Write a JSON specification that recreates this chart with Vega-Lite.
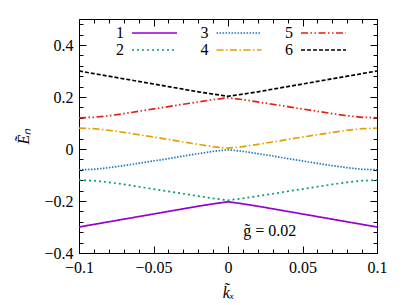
{
  "$schema": "https://vega.github.io/schema/vega-lite/v6.json",
  "autosize": {"type": "none"},
  "padding": {"left": 79, "top": 19, "right": 30, "bottom": 52},
  "width": 298,
  "height": 234,
  "datasets": {
    "bands": [
      {"b":"1","k":-0.1,"E":-0.300},{"b":"1","k":-0.09,"E":-0.290},{"b":"1","k":-0.08,"E":-0.280},{"b":"1","k":-0.07,"E":-0.270},{"b":"1","k":-0.06,"E":-0.260},{"b":"1","k":-0.05,"E":-0.250},{"b":"1","k":-0.04,"E":-0.240},{"b":"1","k":-0.03,"E":-0.230},{"b":"1","k":-0.02,"E":-0.220},{"b":"1","k":-0.01,"E":-0.211},{"b":"1","k":0,"E":-0.203},{"b":"1","k":0.01,"E":-0.211},{"b":"1","k":0.02,"E":-0.220},{"b":"1","k":0.03,"E":-0.230},{"b":"1","k":0.04,"E":-0.240},{"b":"1","k":0.05,"E":-0.250},{"b":"1","k":0.06,"E":-0.260},{"b":"1","k":0.07,"E":-0.270},{"b":"1","k":0.08,"E":-0.280},{"b":"1","k":0.09,"E":-0.290},{"b":"1","k":0.1,"E":-0.300},
      {"b":"2","k":-0.1,"E":-0.120},{"b":"2","k":-0.09,"E":-0.122},{"b":"2","k":-0.08,"E":-0.128},{"b":"2","k":-0.07,"E":-0.136},{"b":"2","k":-0.06,"E":-0.145},{"b":"2","k":-0.05,"E":-0.154},{"b":"2","k":-0.04,"E":-0.163},{"b":"2","k":-0.03,"E":-0.172},{"b":"2","k":-0.02,"E":-0.181},{"b":"2","k":-0.01,"E":-0.190},{"b":"2","k":0,"E":-0.197},{"b":"2","k":0.01,"E":-0.190},{"b":"2","k":0.02,"E":-0.181},{"b":"2","k":0.03,"E":-0.172},{"b":"2","k":0.04,"E":-0.163},{"b":"2","k":0.05,"E":-0.154},{"b":"2","k":0.06,"E":-0.145},{"b":"2","k":0.07,"E":-0.136},{"b":"2","k":0.08,"E":-0.128},{"b":"2","k":0.09,"E":-0.122},{"b":"2","k":0.1,"E":-0.120},
      {"b":"3","k":-0.1,"E":-0.080},{"b":"3","k":-0.09,"E":-0.078},{"b":"3","k":-0.08,"E":-0.072},{"b":"3","k":-0.07,"E":-0.064},{"b":"3","k":-0.06,"E":-0.055},{"b":"3","k":-0.05,"E":-0.046},{"b":"3","k":-0.04,"E":-0.037},{"b":"3","k":-0.03,"E":-0.027},{"b":"3","k":-0.02,"E":-0.018},{"b":"3","k":-0.01,"E":-0.009},{"b":"3","k":0,"E":-0.003},{"b":"3","k":0.01,"E":-0.009},{"b":"3","k":0.02,"E":-0.018},{"b":"3","k":0.03,"E":-0.027},{"b":"3","k":0.04,"E":-0.037},{"b":"3","k":0.05,"E":-0.046},{"b":"3","k":0.06,"E":-0.055},{"b":"3","k":0.07,"E":-0.064},{"b":"3","k":0.08,"E":-0.072},{"b":"3","k":0.09,"E":-0.078},{"b":"3","k":0.1,"E":-0.080},
      {"b":"4","k":-0.1,"E":0.080},{"b":"4","k":-0.09,"E":0.078},{"b":"4","k":-0.08,"E":0.072},{"b":"4","k":-0.07,"E":0.064},{"b":"4","k":-0.06,"E":0.055},{"b":"4","k":-0.05,"E":0.046},{"b":"4","k":-0.04,"E":0.037},{"b":"4","k":-0.03,"E":0.027},{"b":"4","k":-0.02,"E":0.018},{"b":"4","k":-0.01,"E":0.009},{"b":"4","k":0,"E":0.003},{"b":"4","k":0.01,"E":0.009},{"b":"4","k":0.02,"E":0.018},{"b":"4","k":0.03,"E":0.027},{"b":"4","k":0.04,"E":0.037},{"b":"4","k":0.05,"E":0.046},{"b":"4","k":0.06,"E":0.055},{"b":"4","k":0.07,"E":0.064},{"b":"4","k":0.08,"E":0.072},{"b":"4","k":0.09,"E":0.078},{"b":"4","k":0.1,"E":0.080},
      {"b":"5","k":-0.1,"E":0.120},{"b":"5","k":-0.09,"E":0.122},{"b":"5","k":-0.08,"E":0.128},{"b":"5","k":-0.07,"E":0.136},{"b":"5","k":-0.06,"E":0.145},{"b":"5","k":-0.05,"E":0.154},{"b":"5","k":-0.04,"E":0.163},{"b":"5","k":-0.03,"E":0.172},{"b":"5","k":-0.02,"E":0.181},{"b":"5","k":-0.01,"E":0.190},{"b":"5","k":0,"E":0.197},{"b":"5","k":0.01,"E":0.190},{"b":"5","k":0.02,"E":0.181},{"b":"5","k":0.03,"E":0.172},{"b":"5","k":0.04,"E":0.163},{"b":"5","k":0.05,"E":0.154},{"b":"5","k":0.06,"E":0.145},{"b":"5","k":0.07,"E":0.136},{"b":"5","k":0.08,"E":0.128},{"b":"5","k":0.09,"E":0.122},{"b":"5","k":0.1,"E":0.120},
      {"b":"6","k":-0.1,"E":0.300},{"b":"6","k":-0.09,"E":0.290},{"b":"6","k":-0.08,"E":0.280},{"b":"6","k":-0.07,"E":0.270},{"b":"6","k":-0.06,"E":0.260},{"b":"6","k":-0.05,"E":0.250},{"b":"6","k":-0.04,"E":0.240},{"b":"6","k":-0.03,"E":0.230},{"b":"6","k":-0.02,"E":0.220},{"b":"6","k":-0.01,"E":0.211},{"b":"6","k":0,"E":0.203},{"b":"6","k":0.01,"E":0.211},{"b":"6","k":0.02,"E":0.220},{"b":"6","k":0.03,"E":0.230},{"b":"6","k":0.04,"E":0.240},{"b":"6","k":0.05,"E":0.250},{"b":"6","k":0.06,"E":0.260},{"b":"6","k":0.07,"E":0.270},{"b":"6","k":0.08,"E":0.280},{"b":"6","k":0.09,"E":0.290},{"b":"6","k":0.1,"E":0.300}
    ],
    "note": [{"k": 0.028, "E": -0.315, "t": "g̃ = 0.02"}]
  },
  "data": {"name": "bands"},
  "resolve": {"axis": {"x": "independent", "y": "independent"}},
  "layer": [
    {
      "mark": {"type": "line", "strokeWidth": 1.7, "strokeCap": "butt"},
      "encoding": {
        "x": {"field": "k", "type": "quantitative", "title": "k̃ₓ",
          "scale": {"domain": [-0.1, 0.1], "nice": false, "zero": false},
          "axis": {"orient": "bottom", "values": [-0.1, -0.05, 0, 0.05, 0.1], "format": "~g", "tickSize": -7, "labelPadding": 13, "labelFlush": false, "domain": true, "titlePadding": 9}},
        "y": {"field": "E", "type": "quantitative", "title": "Ẽₙ",
          "scale": {"domain": [-0.4, 0.5], "nice": false, "zero": false},
          "axis": {"orient": "left", "values": [-0.4, -0.2, 0, 0.2, 0.4], "format": "~g", "tickSize": -7, "labelPadding": 13, "labelFlush": false, "domain": true, "titlePadding": 12}},
        "color": {"field": "b", "type": "nominal",
          "scale": {"domain": ["1", "3", "5", "2", "4", "6"], "range": ["#9400d3", "#1f78c1", "#e51e10", "#009e73", "#e69f00", "#000000"]},
          "legend": {"title": null, "orient": "none", "legendX": 50, "legendY": 6, "columns": 3, "direction": "horizontal"}},
        "strokeDash": {"field": "b", "type": "nominal",
          "scale": {"domain": ["1", "3", "5", "2", "4", "6"], "range": [[1, 0], [1.5, 1.5], [7, 2.5, 1.5, 2.5, 1.5, 2.5], [2, 3], [7, 2.5, 1.5, 2.5], [4, 2]]},
          "legend": {"title": null, "orient": "none", "legendX": 50, "legendY": 6, "columns": 3, "direction": "horizontal"}}
      }
    },
    {
      "mark": {"type": "point", "opacity": 0},
      "encoding": {
        "x": {"field": "k", "type": "quantitative", "scale": {"domain": [-0.1, 0.1], "nice": false, "zero": false},
          "axis": {"orient": "bottom", "title": null, "labels": false, "domain": false, "tickSize": -4, "values": [-0.1,-0.09,-0.08,-0.07,-0.06,-0.05,-0.04,-0.03,-0.02,-0.01,0,0.01,0.02,0.03,0.04,0.05,0.06,0.07,0.08,0.09,0.1]}},
        "y": {"field": "E", "type": "quantitative", "scale": {"domain": [-0.4, 0.5], "nice": false, "zero": false},
          "axis": {"orient": "left", "title": null, "labels": false, "domain": false, "tickSize": -4, "values": [-0.4,-0.36,-0.32,-0.28,-0.24,-0.2,-0.16,-0.12,-0.08,-0.04,0,0.04,0.08,0.12,0.16,0.2,0.24,0.28,0.32,0.36,0.4,0.44,0.48]}}
      }
    },
    {
      "mark": {"type": "point", "opacity": 0},
      "encoding": {
        "x": {"field": "k", "type": "quantitative", "scale": {"domain": [-0.1, 0.1], "nice": false, "zero": false},
          "axis": {"orient": "top", "title": null, "labels": false, "domain": true, "tickSize": -7, "values": [-0.1, -0.05, 0, 0.05, 0.1]}},
        "y": {"field": "E", "type": "quantitative", "scale": {"domain": [-0.4, 0.5], "nice": false, "zero": false},
          "axis": {"orient": "right", "title": null, "labels": false, "domain": true, "tickSize": -7, "values": [-0.4, -0.2, 0, 0.2, 0.4]}}
      }
    },
    {
      "mark": {"type": "point", "opacity": 0},
      "encoding": {
        "x": {"field": "k", "type": "quantitative", "scale": {"domain": [-0.1, 0.1], "nice": false, "zero": false},
          "axis": {"orient": "top", "title": null, "labels": false, "domain": false, "tickSize": -4, "values": [-0.1,-0.09,-0.08,-0.07,-0.06,-0.05,-0.04,-0.03,-0.02,-0.01,0,0.01,0.02,0.03,0.04,0.05,0.06,0.07,0.08,0.09,0.1]}},
        "y": {"field": "E", "type": "quantitative", "scale": {"domain": [-0.4, 0.5], "nice": false, "zero": false},
          "axis": {"orient": "right", "title": null, "labels": false, "domain": false, "tickSize": -4, "values": [-0.4,-0.36,-0.32,-0.28,-0.24,-0.2,-0.16,-0.12,-0.08,-0.04,0,0.04,0.08,0.12,0.16,0.2,0.24,0.28,0.32,0.36,0.4,0.44,0.48]}}
      }
    },
    {
      "data": {"name": "note"},
      "mark": {"type": "text", "font": "Liberation Serif", "fontSize": 16, "align": "center", "baseline": "middle", "color": "#000000"},
      "encoding": {
        "x": {"field": "k", "type": "quantitative", "axis": null},
        "y": {"field": "E", "type": "quantitative", "axis": null},
        "text": {"field": "t"}
      }
    }
  ],
  "config": {
    "font": "Liberation Serif",
    "view": {"stroke": null},
    "axis": {"grid": false, "labelFont": "Liberation Serif", "labelFontSize": 16, "labelColor": "#000000", "tickColor": "#000000", "tickWidth": 1, "domainColor": "#000000", "domainWidth": 1, "titleFont": "Liberation Serif", "titleFontSize": 16, "titleFontWeight": "normal", "titleFontStyle": "italic", "titleColor": "#000000"},
    "legend": {"symbolType": "M-1,0H8", "symbolSize": 100, "symbolStrokeWidth": 1.7, "labelFont": "Liberation Serif", "labelFontSize": 16, "labelColor": "#000000", "labelAlign": "right", "labelOffset": -21, "columnPadding": 19.5, "rowPadding": 1, "padding": 0}
  }
}
